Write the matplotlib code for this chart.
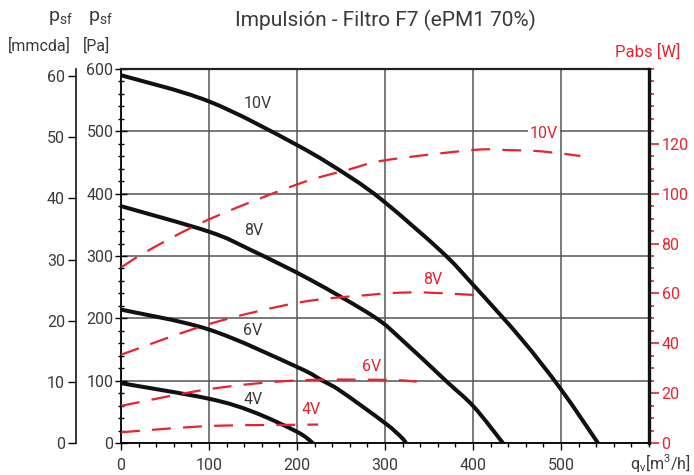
import matplotlib
matplotlib.use("Agg")
import matplotlib.pyplot as plt
from matplotlib.path import Path
from matplotlib.patches import PathPatch
from matplotlib.ticker import MultipleLocator

plt.rcParams['font.family'] = ['Roboto', 'DejaVu Sans']
plt.rcParams['mathtext.fontset'] = 'custom'
plt.rcParams['mathtext.rm'] = 'Roboto'

TITLE = "Impulsión - Filtro F7 (ePM1 70%)"

# Static pressure curves, q [m3/h] -> p_sf [Pa]
q_10v = [0, 100, 200, 260, 300, 365, 400, 455, 500, 542]
p_10v = [590, 548, 478, 427, 386, 306, 254, 167, 86, 0]

q_8v = [0, 100, 147, 215, 287, 318, 369, 401, 434]
p_8v = [380, 339, 310, 262, 203, 167, 100, 58, 0]

q_6v = [0, 100, 200, 229, 250, 300, 318, 324]
p_6v = [214, 182, 122, 100, 83, 32, 10, 0]

q_4v = [0, 100, 150, 200, 218]
p_4v = [96, 71, 50, 18, 0]

# Absorbed power curves, q [m3/h] -> Pabs [W]
qw_10v = [0, 33, 100, 200, 260, 300, 400, 438, 480, 522]
w_10v = [70.4, 77.6, 89.7, 103.7, 109.8, 113.4, 117.5, 117.5, 116.9, 115.1]

qw_8v = [0, 100, 200, 275, 336, 415]
w_8v = [35.4, 47.7, 56.2, 59.2, 60.4, 59.1]

qw_6v = [0, 100, 200, 303, 336]
w_6v = [14.9, 21.6, 25.1, 25.3, 24.6]

qw_4v = [0, 100, 200, 224]
w_4v = [4.3, 6.8, 7.3, 7.4]

pressure_curves = [("10V", q_10v, p_10v), ("8V", q_8v, p_8v),
                   ("6V", q_6v, p_6v), ("4V", q_4v, p_4v)]
power_curves = [("10V", qw_10v, w_10v), ("8V", qw_8v, w_8v),
                ("6V", qw_6v, w_6v), ("4V", qw_4v, w_4v)]

x_ticks = [0, 100, 200, 300, 400, 500]
pa_ticks = [0, 100, 200, 300, 400, 500, 600]
mmcda_ticks = [0, 10, 20, 30, 40, 50, 60]
w_ticks = [0, 20, 40, 60, 80, 100, 120]

PA_PER_MMCDA = 9.81

TXT = "#3a3a3a"
RED = "#e8222e"
GRID = "#555555"


def smooth_path(xs, ys):
    """Cubic Bezier path passing through every point (Catmull-Rom tangents)."""
    n = len(xs)
    verts = [(xs[0], ys[0])]
    codes = [Path.MOVETO]
    for i in range(n - 1):
        x0, y0 = xs[max(i - 1, 0)], ys[max(i - 1, 0)]
        x1, y1 = xs[i], ys[i]
        x2, y2 = xs[i + 1], ys[i + 1]
        x3, y3 = xs[min(i + 2, n - 1)], ys[min(i + 2, n - 1)]
        c1 = (x1 + (x2 - x0) / 6.0, y1 + (y2 - y0) / 6.0)
        c2 = (x2 - (x3 - x1) / 6.0, y2 - (y3 - y1) / 6.0)
        verts += [c1, c2, (x2, y2)]
        codes += [Path.CURVE4] * 3
    return Path(verts, codes)


fig = plt.figure(figsize=(6.94, 4.75), dpi=100)
ax = fig.add_axes([121 / 694, 1 - 443 / 475, 528 / 694, 374 / 475])

ax.set_xlim(0, 600)
ax.set_ylim(0, 600)
ax.set_xticks(x_ticks)
ax.xaxis.set_minor_locator(MultipleLocator(20))
ax.set_yticks(pa_ticks)
ax.yaxis.set_minor_locator(MultipleLocator(20))
ax.grid(True, which='major', color=GRID, lw=1.1)
ax.set_axisbelow(True)

ax.tick_params(axis='x', which='major', direction='out', length=5, width=1,
               color='black', labelsize=11.5, labelcolor=TXT, pad=6)
ax.tick_params(axis='x', which='minor', direction='out', length=3, width=1,
               color='black')
ax.tick_params(axis='y', which='major', direction='inout', length=9, width=1,
               color='black', labelsize=11.5, labelcolor=TXT, pad=1)
ax.tick_params(axis='y', which='minor', direction='inout', length=4, width=1,
               color='black')
for side in ('left', 'bottom'):
    ax.spines[side].set_linewidth(1.3)
ax.spines['top'].set_linewidth(1.6)
ax.spines['top'].set_color('#222222')
ax.spines['right'].set_visible(False)

for name, q, p in pressure_curves:
    ax.add_patch(PathPatch(smooth_path(q, p), facecolor='none',
                           edgecolor='#111111', lw=2.9, capstyle='butt',
                           zorder=3))

black_labels = {"10V": (155, 544), "8V": (151, 341), "6V": (150, 180), "4V": (150, 69)}
for name, (x, y) in black_labels.items():
    ax.text(x, y, name, color=TXT, fontsize=11.5, ha='center', va='center', zorder=4)

# mm water column axis on the far left
sec = ax.secondary_yaxis(-45 / 528, functions=(lambda p: p / PA_PER_MMCDA,
                                               lambda m: m * PA_PER_MMCDA))
sec.set_yticks(mmcda_ticks)
sec.tick_params(axis='y', direction='out', length=6, width=1, color='black',
                labelsize=11.5, labelcolor=TXT, pad=2)
sec.spines['left'].set_linewidth(1.1)

# Absorbed power axis on the right
ax2 = ax.twinx()
ax2.set_ylim(0, 150)
ax2.set_yticks(w_ticks)
ax2.yaxis.set_minor_locator(MultipleLocator(5))
ax2.tick_params(axis='y', which='major', direction='out', length=7, width=1.2,
                color=RED, labelsize=11.5, labelcolor=RED, pad=2)
ax2.tick_params(axis='y', which='minor', direction='out', length=3.5, width=1.2,
                color=RED)
for side in ('left', 'top', 'bottom'):
    ax2.spines[side].set_visible(False)
ax2.spines['right'].set_linewidth(2.4)
ax2.spines['right'].set_color('#111111')

for name, q, w in power_curves:
    ax2.add_patch(PathPatch(smooth_path(q, w), facecolor='none',
                            edgecolor=RED, lw=1.6, linestyle=(0, (8.5, 5.5)),
                            zorder=3))

red_labels = {"10V": (481, 124.2), "8V": (354, 65.5), "6V": (285, 30.6), "4V": (216, 13.3)}
for name, (x, y) in red_labels.items():
    kw = {}
    if name == "10V":
        kw['bbox'] = dict(facecolor='white', edgecolor='none', pad=1.5)
    ax2.text(x, y, name, color=RED, fontsize=11.5, ha='center', va='center',
             zorder=5, **kw)

# Header and axis captions
fig.text(385 / 694, 1 - 20 / 475, TITLE, color=TXT, fontsize=15,
         ha='center', va='center')
fig.text(60 / 694, 1 - 18 / 475, r"p$_{\mathrm{sf}}$", color=TXT, fontsize=14,
         ha='center', va='center')
fig.text(100 / 694, 1 - 18 / 475, r"p$_{\mathrm{sf}}$", color=TXT, fontsize=14,
         ha='center', va='center')
fig.text(39 / 694, 1 - 46 / 475, "[mmcda]", color=TXT, fontsize=11.5,
         ha='center', va='center')
fig.text(96 / 694, 1 - 46 / 475, "[Pa]", color=TXT, fontsize=11.5,
         ha='center', va='center')
fig.text(648 / 694, 1 - 52 / 475, "Pabs [W]", color=RED, fontsize=12,
         ha='center', va='center')
fig.text(660 / 694, 1 - 463 / 475, r"q$_{\mathrm{v}}$[m$^{3}$/h]", color=TXT,
         fontsize=11.5, ha='center', va='center')

fig.savefig("out.png", dpi=100)
